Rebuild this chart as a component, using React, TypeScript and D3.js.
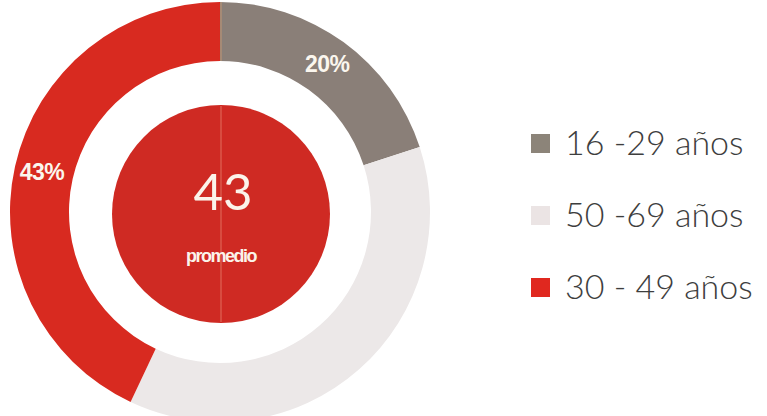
import React from "react";
import * as d3 from "d3";

const categories = ["16 -29 años", "50 -69 años", "30 - 49 años"];
const values = [20, 37, 43];
const labels = ["20%", "", "43%"];
const colors = ["#8a7f78", "#ece8e8", "#d82a20"];
const legendColors = ["#8c8479", "#ebe4e4", "#e0281f"];
const centerValue = "43";
const centerLabel = "promedio";

export default function App() {
  const W = 767, H = 416;
  const cx = 220, cy = 212;
  const R = 210, r = 151, diskR = 109;
  const pie = d3.pie<number>().sort(null).value((d) => d);
  const arcs = pie(values);
  const arc = d3.arc<d3.PieArcDatum<number>>().innerRadius(r).outerRadius(R);
  const labelArc = d3.arc<d3.PieArcDatum<number>>().innerRadius(r + 2).outerRadius(R + 2);
  const legendY = d3.scalePoint<string>().domain(categories).range([143, 287]);

  return (
    <svg width={W} height={H} style={{ position: "absolute", left: 0, top: 0, background: "#fff" }}>
      <g transform={`translate(${cx},${cy})`}>
        {arcs.map((a, i) => (
          <path key={i} d={arc(a) || ""} fill={colors[i]} />
        ))}
        <line x1={1} x2={1} y1={-R} y2={-r} stroke="#d9a070" strokeWidth={1} opacity={0.7} />
        {arcs.map((a, i) => {
          if (!labels[i]) return null;
          const [x, y] = labelArc.centroid(a);
          return (
            <text key={"l" + i} x={x} y={y} dy="0.35em" textAnchor="middle" fill="#fbf6ee"
              fontFamily="Liberation Sans, Arial, sans-serif" fontWeight="bold" fontSize={23}
              letterSpacing={-0.5}>
              {labels[i]}
            </text>
          );
        })}
        <circle r={diskR} cx={1} cy={2} fill="#cf2a23" />
        <line x1={1} x2={1} y1={-diskR + 3} y2={diskR + 1} stroke="#e8806e" strokeWidth={1} opacity={0.8} />
        <text x={3} y={-2} textAnchor="middle" fill="#fbf3ea" fontFamily="Lato, sans-serif"
          fontWeight={400} fontSize={51}>
          {centerValue}
        </text>
        <text x={1} y={50} textAnchor="middle" fill="#fbf3ea" fontFamily="Liberation Sans Narrow, Liberation Sans, sans-serif"
          fontWeight="bold" fontSize={18} letterSpacing={-1.5}>
          {centerLabel}
        </text>
      </g>
      <g>
        {categories.map((c, i) => {
          const y = legendY(c) as number;
          return (
            <g key={c} transform={`translate(531,${y})`}>
              <rect x={0} y={-9} width={19} height={19} fill={legendColors[i]} />
              <text x={34} y={0} dy="0.36em" fill="#3e3e3e" fontFamily="Lato, sans-serif" fontWeight={300}
                fontSize={34}>
                {c}
              </text>
            </g>
          );
        })}
      </g>
    </svg>
  );
}
